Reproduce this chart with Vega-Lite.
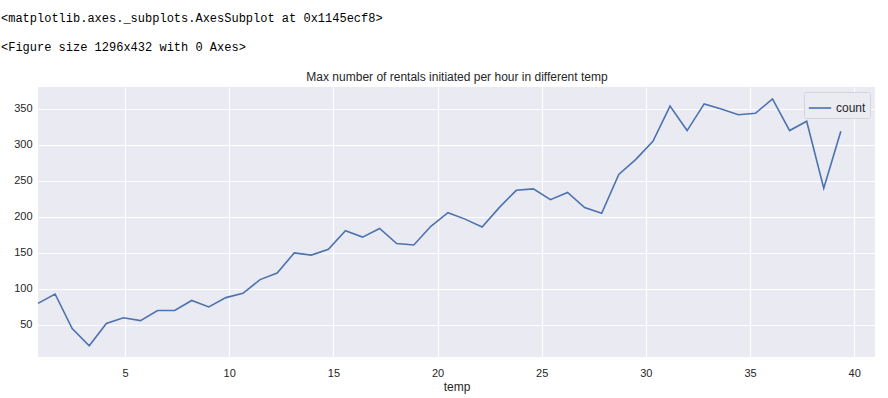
{
  "$schema": "https://vega.github.io/schema/vega-lite/v6.json",
  "width": 837,
  "height": 270,
  "autosize": {"type": "none"},
  "padding": {"left": 38, "top": 87, "right": 13, "bottom": 41},
  "background": "white",
  "title": {
    "text": "<matplotlib.axes._subplots.AxesSubplot at 0x1145ecf8>",
    "subtitle": "<Figure size 1296x432 with 0 Axes>",
    "anchor": "start",
    "frame": "group",
    "dx": -37,
    "offset": 16,
    "font": "Liberation Mono",
    "fontSize": 12,
    "fontWeight": "normal",
    "color": "#000000",
    "subtitleFont": "Liberation Mono",
    "subtitleFontSize": 12,
    "subtitleColor": "#000000",
    "subtitlePadding": 17
  },
  "config": {
    "view": {"fill": "#EAEAF2", "stroke": null},
    "axis": {
      "domain": false,
      "ticks": false,
      "gridColor": "#FFFFFF",
      "gridWidth": 1.1,
      "gridOpacity": 1,
      "labelFont": "Liberation Sans",
      "labelFontSize": 11,
      "labelColor": "#262626",
      "titleFont": "Liberation Sans",
      "titleFontSize": 12,
      "titleFontWeight": "normal",
      "titleColor": "#262626"
    },
    "legend": {
      "labelFont": "Liberation Sans",
      "labelFontSize": 12,
      "labelColor": "#262626"
    }
  },
  "data": {
    "values": [
      {"temp": 0.82, "count": 80},
      {"temp": 1.64, "count": 93},
      {"temp": 2.46, "count": 45},
      {"temp": 3.28, "count": 21},
      {"temp": 4.1, "count": 52},
      {"temp": 4.92, "count": 60},
      {"temp": 5.74, "count": 56},
      {"temp": 6.56, "count": 70},
      {"temp": 7.38, "count": 70},
      {"temp": 8.2, "count": 84},
      {"temp": 9.02, "count": 75},
      {"temp": 9.84, "count": 88},
      {"temp": 10.66, "count": 94},
      {"temp": 11.48, "count": 113},
      {"temp": 12.3, "count": 122},
      {"temp": 13.12, "count": 150},
      {"temp": 13.94, "count": 147},
      {"temp": 14.76, "count": 155},
      {"temp": 15.58, "count": 181},
      {"temp": 16.4, "count": 172},
      {"temp": 17.22, "count": 184},
      {"temp": 18.04, "count": 163},
      {"temp": 18.86, "count": 161},
      {"temp": 19.68, "count": 187},
      {"temp": 20.5, "count": 206},
      {"temp": 21.32, "count": 197},
      {"temp": 22.14, "count": 186},
      {"temp": 22.96, "count": 213},
      {"temp": 23.78, "count": 237},
      {"temp": 24.6, "count": 239},
      {"temp": 25.42, "count": 224},
      {"temp": 26.24, "count": 234},
      {"temp": 27.06, "count": 213},
      {"temp": 27.88, "count": 205},
      {"temp": 28.7, "count": 259},
      {"temp": 29.52, "count": 280},
      {"temp": 30.34, "count": 305},
      {"temp": 31.16, "count": 354},
      {"temp": 31.98, "count": 320},
      {"temp": 32.8, "count": 357},
      {"temp": 33.62, "count": 350},
      {"temp": 34.44, "count": 342},
      {"temp": 35.26, "count": 344},
      {"temp": 36.08, "count": 364},
      {"temp": 36.9, "count": 320},
      {"temp": 37.72, "count": 333},
      {"temp": 38.54, "count": 240},
      {"temp": 39.36, "count": 319}
    ]
  },
  "layer": [
    {
      "mark": {"type": "line", "strokeWidth": 1.6},
      "encoding": {
        "x": {
          "field": "temp",
          "type": "quantitative",
          "scale": {"domain": [0.82, 41.0], "nice": false, "zero": false},
          "axis": {"values": [5, 10, 15, 20, 25, 30, 35, 40], "title": "temp", "labelPadding": 10, "titlePadding": 3}
        },
        "y": {
          "field": "count",
          "type": "quantitative",
          "scale": {"domain": [5.5, 380.5], "nice": false, "zero": false},
          "axis": {"values": [50, 100, 150, 200, 250, 300, 350], "title": null, "labelPadding": 6}
        },
        "color": {
          "datum": "count",
          "scale": {"range": ["#4C72B0"]},
          "legend": {
            "title": null,
            "orient": "top-right",
            "offset": 5,
            "symbolType": "stroke",
            "symbolSize": 500,
            "symbolStrokeWidth": 1.6,
            "fillColor": "#EBEBF2",
            "strokeColor": "#D5D5D8",
            "padding": 4,
            "cornerRadius": 2
          }
        }
      }
    },
    {
      "mark": {"type": "line", "opacity": 0},
      "encoding": {
        "x": {
          "field": "temp",
          "type": "quantitative",
          "axis": {
            "orient": "top",
            "title": "Max number of rentals initiated per hour in different temp",
            "labels": false,
            "ticks": false,
            "domain": false,
            "grid": false,
            "titlePadding": 4
          }
        },
        "y": {
          "field": "count",
          "type": "quantitative",
          "axis": {"values": [50, 100, 150, 200, 250, 300, 350], "title": null, "labelPadding": 6}
        }
      }
    }
  ],
  "resolve": {"axis": {"x": "independent"}}
}
